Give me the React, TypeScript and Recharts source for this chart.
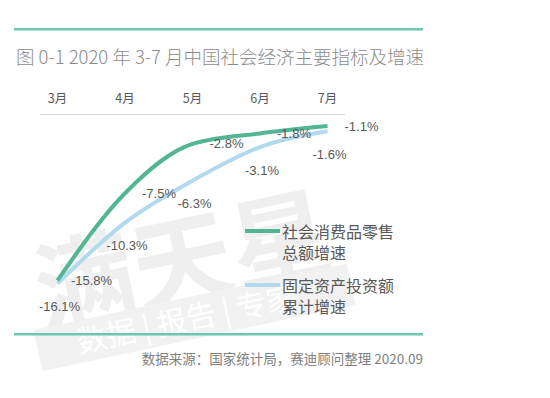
import React from 'react';
import { LineChart, Line, XAxis, YAxis, LabelList } from 'recharts';

const months = ['3月', '4月', '5月', '6月', '7月'];
const retailGrowth = [-15.8, -7.5, -2.8, -1.8, -1.1];
const investmentGrowth = [-16.1, -10.3, -6.3, -3.1, -1.6];
const legendRetail = ['社会消费品零售', '总额增速'];
const legendInvest = ['固定资产投资额', '累计增速'];
const titleText = '图 0-1  2020 年 3-7 月中国社会经济主要指标及增速';
const sourceText = '数据来源：国家统计局，赛迪顾问整理 2020.09';

const GREEN = '#52b594';
const BLUE = '#b2daee';
const RULE = '#6cc6b1';
const LABEL = '#595959';
const CJK = '"Noto Sans CJK SC", "Noto Sans", sans-serif';
const NUM = '"Liberation Sans", Arial, sans-serif';

const data = months.map((m, i) => ({ month: m, retail: retailGrowth[i], invest: investmentGrowth[i] }));

const fmt = (v: number) => `${v.toFixed(1)}%`;

const RetailLabel = (props: any) => {
  const { x, y, value } = props;
  return (
    <text x={x + 34} y={y} dominantBaseline="central" textAnchor="middle" fill={LABEL} fontSize={13} fontFamily={NUM}>
      {fmt(value)}
    </text>
  );
};

const InvestLabel = (props: any) => {
  const { x, y, value } = props;
  return (
    <text x={x + 2} y={y + 23} dominantBaseline="central" textAnchor="middle" fill={LABEL} fontSize={13} fontFamily={NUM}>
      {fmt(value)}
    </text>
  );
};

export default function App() {
  return (
    <div style={{ position: 'absolute', left: 0, top: 0, width: 550, height: 398, background: '#fff' }}>
      <svg width={550} height={398} style={{ position: 'absolute', left: 0, top: 0 }}>
        <g transform="rotate(-12 170 250)">
          <text x={30} y={300} fontSize={100} fontFamily={CJK} fontWeight={700} fill="#efefef">满天星</text>
          <rect x={20} y={300} width={320} height={42} fill="#f2f2f2" />
          <text x={60} y={332} fontSize={30} fontFamily={CJK} fill="#ffffff">数据 | 报告 | 专家</text>
        </g>
      </svg>
      <div style={{ position: 'absolute', left: 0, top: 0 }}>
        <LineChart width={550} height={398} data={data} margin={{ top: 84.5, left: 40, right: 205, bottom: 94.5 }}>
          <XAxis
            dataKey="month"
            orientation="top"
            height={30}
            padding={{ left: 17.5, right: 17.5 }}
            tickLine={false}
            tickSize={0}
            tickMargin={12}
            axisLine={{ stroke: '#d9d9d9', strokeWidth: 1 }}
            tick={{ fill: LABEL, fontSize: 12.5, fontFamily: CJK }}
            interval={0}
          />
          <YAxis hide domain={[-18, 0]} />
          <Line
            dataKey="invest"
            type="monotone"
            stroke={BLUE}
            strokeWidth={4}
            dot={false}
            isAnimationActive={false}
          >
            <LabelList dataKey="invest" content={InvestLabel} />
          </Line>
          <Line
            dataKey="retail"
            type="monotone"
            stroke={GREEN}
            strokeWidth={4}
            dot={false}
            isAnimationActive={false}
          >
            <LabelList dataKey="retail" content={RetailLabel} />
          </Line>
        </LineChart>
      </div>
      <svg width={550} height={398} style={{ position: 'absolute', left: 0, top: 0, pointerEvents: 'none' }}>
        <rect x={14} y={28} width={409} height={2.5} fill={RULE} />
        <text x={16} y={56} dominantBaseline="central" fontSize={18.5} fontFamily={CJK} fontWeight={300} fill="#8c8c8c">
          {titleText}
        </text>
        <line x1={245} y1={231} x2={280} y2={231} stroke={GREEN} strokeWidth={4} />
        <text x={282} y={231} dominantBaseline="central" fontSize={16} fontFamily={CJK} fill={LABEL}>{legendRetail[0]}</text>
        <text x={282} y={252} dominantBaseline="central" fontSize={16} fontFamily={CJK} fill={LABEL}>{legendRetail[1]}</text>
        <line x1={245} y1={285} x2={280} y2={285} stroke={BLUE} strokeWidth={4} />
        <text x={282} y={285} dominantBaseline="central" fontSize={16} fontFamily={CJK} fill={LABEL}>{legendInvest[0]}</text>
        <text x={282} y={306} dominantBaseline="central" fontSize={16} fontFamily={CJK} fill={LABEL}>{legendInvest[1]}</text>
        <rect x={14} y={333} width={409} height={2.5} fill={RULE} />
        <text x={423} y={358} dominantBaseline="central" textAnchor="end" fontSize={13.5} fontFamily={CJK} fill="#7f7f7f">
          {sourceText}
        </text>
      </svg>
    </div>
  );
}
